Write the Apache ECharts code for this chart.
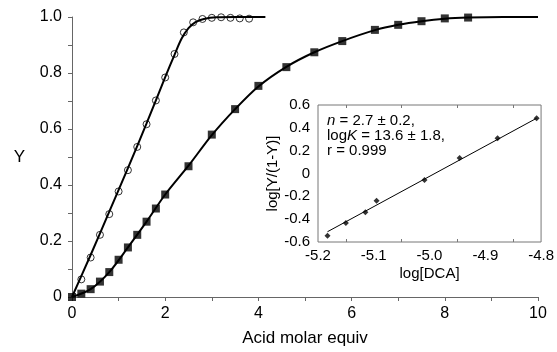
<!DOCTYPE html>
<html>
<head>
<meta charset="utf-8">
<script src="https://cdn.jsdelivr.net/npm/echarts@6/dist/echarts.min.js"></script>
<style>
html,body{margin:0;padding:0;background:#fff;}
#c{width:557px;height:352px;}
</style>
</head>
<body>
<div id="c"></div>
<script>
// Main chart: open circles
const circleX = [0.2,0.4,0.6,0.8,1.0,1.2,1.4,1.6,1.8,2.0,2.2,2.4,2.6,2.8,3.0,3.2,3.4,3.6,3.8];
const circleY = [0.063,0.141,0.222,0.296,0.377,0.453,0.536,0.617,0.702,0.784,0.868,0.945,0.981,0.993,0.997,0.999,0.997,0.995,0.994];
// fitted curve through circles
const circleFitX = [0,0.4,0.8,1.2,1.6,2.0,2.2,2.35,2.5,2.65,2.85,3.1,3.5,4.15];
const circleFitY = [0,0.15,0.305,0.46,0.62,0.785,0.865,0.922,0.960,0.982,0.994,0.999,1.0,1.0];
// filled squares
const squareX = [0,0.2,0.4,0.6,0.8,1.0,1.2,1.4,1.6,1.8,2.0,2.5,3.0,3.5,4.0,4.6,5.2,5.8,6.5,7.0,7.5,8.0,8.5];
const squareY = [0,0.012,0.028,0.055,0.089,0.133,0.177,0.222,0.269,0.316,0.366,0.467,0.58,0.671,0.754,0.821,0.874,0.914,0.954,0.972,0.985,0.995,0.998];
// fitted curve through squares
const squareFitX = [0,0.4,0.8,1.2,1.6,2.0,2.5,3.0,3.5,4.0,4.6,5.2,5.8,6.5,7.0,7.5,8.0,8.5,9.25,10];
const squareFitY = [0,0.028,0.089,0.177,0.269,0.366,0.469,0.578,0.671,0.752,0.822,0.874,0.914,0.953,0.972,0.985,0.994,0.998,1.0,1.0];
// Inset: log[DCA] vs log[Y/(1-Y)]
const insetX = [-5.183,-5.150,-5.115,-5.095,-5.009,-4.946,-4.878,-4.808];
const insetY = [-0.546,-0.434,-0.340,-0.239,-0.057,0.136,0.309,0.484];
const insetFitX = [-5.183,-4.808];
const insetFitY = [-0.51,0.484];

const zip = (xs, ys) => xs.map((x, i) => [x, ys[i]]);
const FONT = '"Liberation Sans", Arial, Helvetica, sans-serif';
const fmt1 = v => (Math.abs(v) < 1e-9 ? '0' : v.toFixed(1));

const chart = echarts.init(document.getElementById('c'), null, {renderer: 'canvas'});
chart.setOption({
  animation: false,
  backgroundColor: '#fff',
  grid: [
    {left: 72, top: 17, width: 466, height: 283, show: false},
    {left: 318, top: 105, width: 225, height: 137, show: true, backgroundColor: '#fff', borderColor: '#777', borderWidth: 1, z: 5}
  ],
  xAxis: [
    {
      gridIndex: 0, type: 'value', min: 0, max: 10, interval: 2,
      name: 'Acid molar equiv', nameLocation: 'middle', nameGap: 33,
      nameTextStyle: {fontFamily: FONT, fontSize: 17, color: '#000'},
      axisLine: {show: true, onZero: false, lineStyle: {color: '#666', width: 1}},
      axisTick: {show: true, length: 4, lineStyle: {color: '#666'}},
      minorTick: {show: true, splitNumber: 2, length: 4, lineStyle: {color: '#666'}},
      splitLine: {show: false},
      axisLabel: {fontFamily: FONT, fontSize: 16, color: '#000', margin: 9}
    },
    {
      gridIndex: 1, type: 'value', min: -5.2, max: -4.8, interval: 0.1,
      name: 'log[DCA]', nameLocation: 'middle', nameGap: 24,
      nameTextStyle: {fontFamily: FONT, fontSize: 15, color: '#000'},
      axisLine: {show: false, onZero: false},
      axisTick: {show: false, inside: true},
      minorTick: {show: true, splitNumber: 2, length: 3, lineStyle: {color: '#777'}},
      splitLine: {show: false},
      axisLabel: {fontFamily: FONT, fontSize: 15, color: '#000', margin: 6, formatter: v => v.toFixed(1)},
      z: 6
    },
    {
      gridIndex: 1, type: 'value', min: -5.2, max: -4.8, interval: 0.1, position: 'top',
      axisLine: {show: false, onZero: false},
      axisTick: {show: false, inside: true},
      minorTick: {show: true, splitNumber: 2, length: 3, lineStyle: {color: '#777'}},
      splitLine: {show: false},
      axisLabel: {show: false},
      z: 6
    }
  ],
  yAxis: [
    {
      gridIndex: 0, type: 'value', min: 0, max: 1, interval: 0.2,
      name: 'Y', nameLocation: 'middle', nameGap: 47, nameRotate: 0,
      nameTextStyle: {fontFamily: FONT, fontSize: 17, color: '#000'},
      axisLine: {show: true, onZero: false, lineStyle: {color: '#666', width: 1}},
      axisTick: {show: true, length: 4, lineStyle: {color: '#666'}},
      minorTick: {show: true, splitNumber: 2, length: 4, lineStyle: {color: '#666'}},
      splitLine: {show: false},
      axisLabel: {fontFamily: FONT, fontSize: 16, color: '#000', margin: 10, formatter: fmt1}
    },
    {
      gridIndex: 1, type: 'value', min: -0.6, max: 0.6, interval: 0.2,
      name: 'log[Y/(1-Y)]', nameLocation: 'middle', nameGap: 38, nameRotate: 90,
      nameTextStyle: {fontFamily: FONT, fontSize: 15, color: '#000'},
      axisLine: {show: false, onZero: false},
      axisTick: {show: false},
      splitLine: {show: false},
      axisLabel: {fontFamily: FONT, fontSize: 15, color: '#000', margin: 8, formatter: fmt1},
      z: 6
    }
  ],
  series: [
    {
      type: 'line', xAxisIndex: 0, yAxisIndex: 0, data: zip(circleFitX, circleFitY),
      smooth: 0.3, showSymbol: false, symbol: 'none',
      lineStyle: {color: '#000', width: 2}, z: 2
    },
    {
      type: 'line', xAxisIndex: 0, yAxisIndex: 0, data: zip(squareFitX, squareFitY),
      smooth: 0.3, showSymbol: false, symbol: 'none',
      lineStyle: {color: '#000', width: 2}, z: 2
    },
    {
      type: 'scatter', xAxisIndex: 0, yAxisIndex: 0, data: zip(circleX, circleY),
      symbol: 'circle', symbolSize: 7,
      itemStyle: {color: 'rgba(0,0,0,0)', borderColor: '#000', borderWidth: 1}, z: 3
    },
    {
      type: 'scatter', xAxisIndex: 0, yAxisIndex: 0, data: zip(squareX, squareY),
      symbol: 'rect', symbolSize: 8,
      itemStyle: {color: '#000'}, z: 3
    },
    {
      type: 'line', xAxisIndex: 1, yAxisIndex: 1, data: zip(insetFitX, insetFitY),
      showSymbol: false, symbol: 'none',
      lineStyle: {color: '#000', width: 1}, z: 7
    },
    {
      type: 'scatter', xAxisIndex: 1, yAxisIndex: 1, data: zip(insetX, insetY),
      symbol: 'diamond', symbolSize: 6,
      itemStyle: {color: '#000'}, z: 8
    }
  ],
  graphic: [
    {
      type: 'text', left: 327, top: 113, z: 100,
      style: {
        text: '{i|n} = 2.7 ± 0.2,\nlog{i|K} = 13.6 ± 1.8,\nr = 0.999',
        fontFamily: FONT, fontSize: 15, lineHeight: 15, fill: '#000',
        rich: {i: {fontStyle: 'italic', fontFamily: FONT, fontSize: 15, lineHeight: 15}}
      }
    }
  ]
});
</script>
</body>
</html>
